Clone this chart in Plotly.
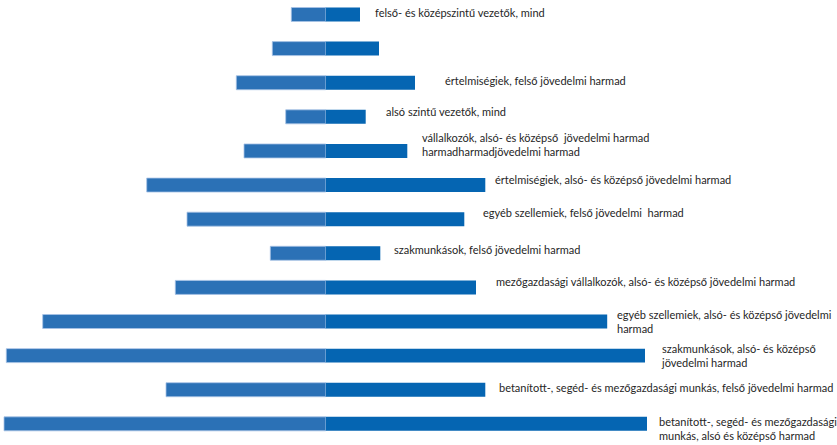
import plotly.graph_objects as go

categories = [
    "felső- és középszintű vezetők, mind",
    "(címke nélkül)",
    "értelmiségiek, felső jövedelmi harmad",
    "alsó szintű vezetők, mind",
    "vállalkozók, alsó- és középső  jövedelmi harmad<br>harmadharmadjövedelmi harmad",
    "értelmiségiek, alsó- és középső jövedelmi harmad",
    "egyéb szellemiek, felső jövedelmi  harmad",
    "szakmunkások, felső jövedelmi harmad",
    "mezőgazdasági vállalkozók, alsó- és középső jövedelmi harmad",
    "egyéb szellemiek, alsó- és középső jövedelmi<br>harmad",
    "szakmunkások, alsó- és középső<br>jövedelmi harmad",
    "betanított-, segéd- és mezőgazdasági munkás, felső jövedelmi harmad",
    "betanított-, segéd- és mezőgazdasági<br>munkás, alsó és középső harmad",
]
show_label = [True, False, True, True, True, True, True, True, True, True, True, True, True]
left_values = [3.44, 5.34, 8.94, 4.0, 8.17, 17.9, 13.87, 5.54, 15.04, 28.3, 31.94, 15.97, 32.17]
right_values = [3.43, 5.33, 8.93, 4.0, 8.16, 15.96, 13.86, 5.46, 15.03, 28.15, 31.93, 15.96, 32.13]

# label placement (pixel offsets from bar end) - layout only
label_xshift = [13, 0, 28, 18, 13, 8, 17, 12, 18, 8, 14, 12, 10]
label_yshift = [2.5, 0, 2.7, 5, 6.5, 5.7, 6.4, 4, 6.3, 0, 0, 2.3, -4.6]

LEFT_COLOR = "#2B71B6"
RIGHT_COLOR = "#0565B2"
EDGE = "#A8C3E6"

idx = list(range(len(categories)))

fig = go.Figure()
fig.add_trace(go.Bar(
    y=idx, x=[-v for v in left_values], orientation="h",
    marker=dict(color=LEFT_COLOR, line=dict(color=EDGE, width=0.8)),
    width=0.41, hoverinfo="skip",
))
fig.add_trace(go.Bar(
    y=idx, x=right_values, orientation="h",
    marker=dict(color=RIGHT_COLOR, line=dict(color=RIGHT_COLOR, width=0)),
    width=0.41, hoverinfo="skip",
))

for i, lab in enumerate(categories):
    if not show_label[i]:
        continue
    fig.add_annotation(
        x=right_values[i], y=i, xref="x", yref="y",
        text=lab, showarrow=False, xanchor="left", yanchor="middle", align="left",
        xshift=label_xshift[i], yshift=label_yshift[i],
        font=dict(family="Lato, Open Sans, sans-serif", size=11, color="#262626"),
    )

fig.update_layout(
    width=837, height=445,
    margin=dict(l=0, r=0, t=0, b=0),
    barmode="relative",
    showlegend=False,
    plot_bgcolor="white", paper_bgcolor="white",
    xaxis=dict(range=[-32.57, 51.13], visible=False, fixedrange=True),
    yaxis=dict(range=[12.62, -0.425], visible=False, fixedrange=True),
)

fig.write_html(
    "out.html",
    config={"displayModeBar": False},
    post_script="document.body.style.margin='0';document.body.style.overflow='hidden';",
)
